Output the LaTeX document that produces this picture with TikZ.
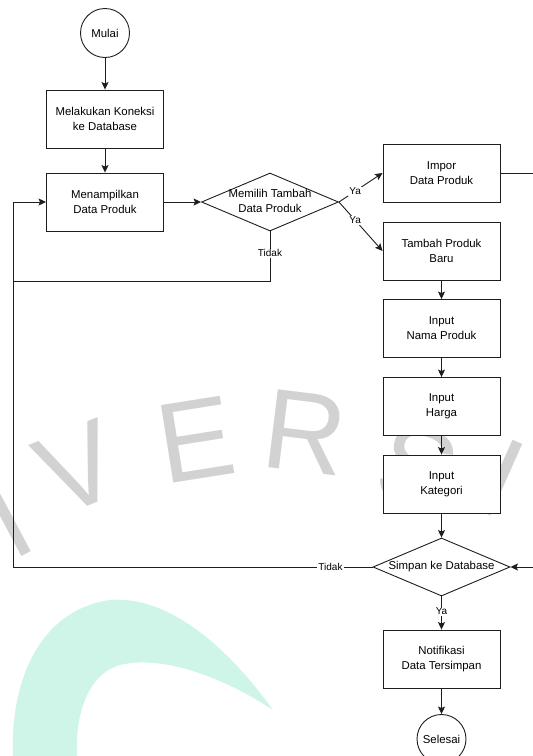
\documentclass[tikz,border=0pt]{standalone}
\usepackage{fontspec}
\setmainfont{Liberation Sans}
\usetikzlibrary{shapes.geometric,arrows.meta,calc}
\definecolor{wmgray}{HTML}{D2D2D2}
\definecolor{wmteal}{HTML}{CFF5E8}
\definecolor{linecol}{HTML}{1E1E1E}

\begin{document}
\begin{tikzpicture}[x=1pt,y=-1pt,
  base/.style={draw=linecol, line width=0.9pt, fill=white, inner sep=0pt,
    font=\fontsize{11.4}{15.2}\selectfont},
  proc/.style={base, rectangle, minimum width=117pt, minimum height=58pt, align=center},
  term/.style={base, circle, minimum size=49pt},
  decision/.style={base, diamond, minimum width=137pt, minimum height=58pt},
  flow/.style={draw=linecol, line width=0.9pt, -{Stealth[length=7.5pt,width=7pt,inset=1.5pt]}},
  link/.style={draw=linecol, line width=0.9pt},
  lbl/.style={fill=white, inner sep=1pt, font=\fontsize{10}{12}\selectfont},
  wm/.style={text=wmgray, inner sep=0pt, font=\fontsize{114}{114}\selectfont}
]
\useasboundingbox (0,0) rectangle (533,756);
\clip (0,0) rectangle (533,756);
\fill[white] (0,0) rectangle (533,756);

% faint background emblem
\fill[wmteal] (13,756) .. controls (10,680) and (40,610) .. (110,600)
  .. controls (170,595) and (230,650) .. (273,710)
  .. controls (220,675) and (160,655) .. (120,665)
  .. controls (85,675) and (75,720) .. (77,756) -- cycle;
\node[wm, rotate=28]  (wI1) at (8,519)   {I};
\node[wm, rotate=22]  (wV)  at (78,468)  {V};
\node[wm, rotate=9]   (wE)  at (196,440) {E};
\node[wm, rotate=-7]  (wR)  at (305,433) {R};
\node[wm, rotate=-16] (wS)  at (418,468) {S};
\node[wm, rotate=-24] (wI2) at (502,478) {I};

% flowchart nodes
\node[term] (start)   at (105,33)    {Mulai};
\node[proc] (connect) at (105,119)   {Melakukan Koneksi\\ke Database};
\node[proc] (show)    at (105,202)   {Menampilkan\\Data Produk};
\node[decision] (choose) at (270,202)
  {\makebox[0pt]{\begin{tabular}{@{}c@{}}Memilih Tambah\\Data Produk\end{tabular}}};
\node[proc] (import)  at (441.5,173)   {Impor\\Data Produk};
\node[proc] (addnew)  at (441.5,251)   {Tambah Produk\\Baru};
\node[proc] (name)    at (441.5,328.5) {Input\\Nama Produk};
\node[proc] (price)   at (441.5,406.5) {Input\\Harga};
\node[proc] (cat)     at (441.5,484)   {Input\\Kategori};
\node[decision] (save) at (441.5,567) {\makebox[0pt]{Simpan ke Database}};
\node[proc] (notify)  at (441.5,659)   {Notifikasi\\Data Tersimpan};
\node[term] (finish)  at (441.5,739)   {Selesai};

% routing points for the loops
\coordinate (lf) at (13,0);
\coordinate (rt) at (545,0);
\coordinate (join) at (13,281);

% connectors
\draw[flow] (start) -- (connect);
\draw[flow] (connect) -- (show);
\draw[flow] (show) -- (choose);
\draw[flow] (choose.east) -- node[lbl, pos=.37] {Ya} (import.west);
\draw[flow] (choose.east) -- node[lbl, pos=.37] {Ya} (addnew.west);
\draw[flow] (addnew) -- (name);
\draw[flow] (name) -- (price);
\draw[flow] (price) -- (cat);
\draw[flow] (cat) -- (save);
\draw[flow] (save) -- node[lbl, pos=.45] {Ya} (notify);
\draw[flow] (notify) -- (finish);
\draw[flow] (import.east) -| (rt |- save.east) -- (save.east);
\draw[flow] (save.west) -- node[lbl, pos=.117] {Tidak} (save.west -| lf) |- (show.west);
\draw[link] (choose.south) |- node[lbl, pos=.22] {Tidak} (join);
\end{tikzpicture}
\end{document}
